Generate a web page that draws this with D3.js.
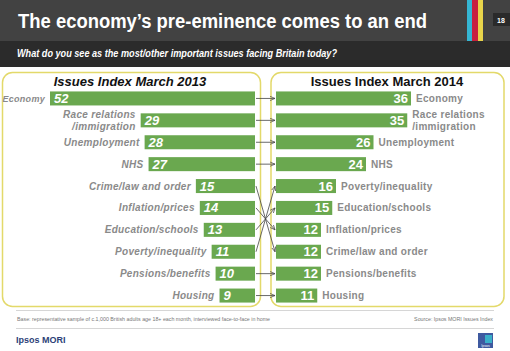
<!DOCTYPE html>
<meta charset="utf-8">
<script src="https://d3js.org/d3.v7.min.js"></script>
<style>
  body { margin: 0; background: #fff; }
  text { font-family: "Liberation Sans", Arial, sans-serif; }
</style>
<div id="chart"></div>
<script>

// data
var leftNames = ["Economy", "Race relations/immigration", "Unemployment", "NHS", "Crime/law and order",
                 "Inflation/prices", "Education/schools", "Poverty/inequality", "Pensions/benefits", "Housing"];
var leftValues = [52, 29, 28, 27, 15, 14, 13, 11, 10, 9];

var rightNames = ["Economy", "Race relations/immigration", "Unemployment", "NHS", "Poverty/inequality",
                  "Education/schools", "Inflation/prices", "Crime/law and order", "Pensions/benefits", "Housing"];
var rightValues = [36, 35, 26, 24, 16, 15, 12, 12, 12, 11];

var width = 510, height = 351;
var green = "#6aa84f", grey = "#8a8a8a", yellow = "#e3d96a";

var svg = d3.select("#chart").append("svg")
    .attr("width", width)
    .attr("height", height);

// header
svg.append("rect").attr("x", 0).attr("y", 0).attr("width", width).attr("height", 41).attr("fill", "#424242");
svg.append("rect").attr("x", 0).attr("y", 41).attr("width", width).attr("height", 26).attr("fill", "#2b2b2b");
svg.append("text").attr("x", 18).attr("y", 28)
    .attr("fill", "#fff").attr("font-size", 20).attr("font-weight", "bold")
    .attr("textLength", 409).attr("lengthAdjust", "spacingAndGlyphs")
    .text("The economy’s pre-eminence comes to an end");
svg.append("text").attr("x", 17).attr("y", 57)
    .attr("fill", "#fff").attr("font-size", 10).attr("font-weight", "bold").attr("font-style", "italic")
    .attr("textLength", 320).attr("lengthAdjust", "spacingAndGlyphs")
    .text("What do you see as the most/other important issues facing Britain today?");
[["#35b6d3", 467, 5], ["#c8203f", 472, 6], ["#e8d44a", 478, 5]].forEach(function(s) {
  svg.append("rect").attr("x", s[1]).attr("y", 0).attr("width", s[2]).attr("height", 41).attr("fill", s[0]);
});
svg.append("rect").attr("x", 493).attr("y", 13).attr("width", 17).attr("height", 13).attr("fill", "#2a2a2a");
svg.append("text").attr("x", 501).attr("y", 22.5).attr("text-anchor", "middle")
    .attr("fill", "#fff").attr("font-size", 7).attr("font-weight", "bold").text("18");

// panels
svg.append("rect").attr("x", 2.5).attr("y", 72.5).attr("width", 258).attr("height", 234)
    .attr("rx", 10).attr("fill", "none").attr("stroke", yellow).attr("stroke-width", 1.5);
svg.append("rect").attr("x", 271).attr("y", 72.5).attr("width", 233).attr("height", 234)
    .attr("rx", 10).attr("fill", "none").attr("stroke", yellow).attr("stroke-width", 1.5);

svg.append("text").attr("x", 130).attr("y", 86).attr("text-anchor", "middle")
    .attr("font-size", 13).attr("font-weight", "bold").attr("font-style", "italic").attr("fill", "#111")
    .text("Issues Index March 2013");
svg.append("text").attr("x", 387).attr("y", 86).attr("text-anchor", "middle")
    .attr("font-size", 13).attr("font-weight", "bold").attr("fill", "#111")
    .text("Issues Index March 2014");

// scales
var y = d3.scaleBand().domain(d3.range(10)).range([87.5, 306.5]).paddingInner(0.36).paddingOuter(0.18);
var leftEnd = 255, rightStart = 276;
var xL = d3.scaleLinear().domain([0, 52]).range([0, 205]);
var xR = d3.scaleLinear().domain([0, 36]).range([0, 135]);

function labelLines(sel, names, xFor) {
  sel.each(function(d, i) {
    var t = d3.select(this);
    var x = xFor(i);
    var cy = y(i) + y.bandwidth() / 2;
    var parts = d.length > 22 ? d.replace("/", "\n/").split("\n") : [d];
    parts.forEach(function(p, k) {
      t.append("tspan").attr("x", x)
        .attr("y", cy + 3.5 + (k - (parts.length - 1) / 2) * 12)
        .text(p);
    });
  });
}

// left bars
var gl = svg.append("g");
gl.selectAll("rect").data(leftValues).enter().append("rect")
    .attr("x", function(d) { return leftEnd - xL(d); })
    .attr("y", function(d, i) { return y(i); })
    .attr("width", function(d) { return xL(d); })
    .attr("height", y.bandwidth())
    .attr("fill", green);
gl.selectAll("text.val").data(leftValues).enter().append("text")
    .attr("class", "val")
    .attr("x", function(d) { return leftEnd - xL(d) + 4; })
    .attr("y", function(d, i) { return y(i) + y.bandwidth() / 2 + 4.5; })
    .attr("fill", "#fff").attr("font-size", 13).attr("font-weight", "bold").attr("font-style", "italic")
    .text(function(d) { return d; });
gl.selectAll("text.lab").data(leftNames).enter().append("text")
    .attr("class", "lab")
    .attr("text-anchor", "end")
    .attr("fill", grey).attr("font-weight", "bold").attr("font-style", "italic")
    .attr("font-size", function(d) { return d == "Economy" ? 9 : 10; })
    .attr("letter-spacing", 0.3)
    .call(labelLines, leftNames, function(i) { return leftEnd - xL(leftValues[i]) - 5; });

// right bars
var gr = svg.append("g");
gr.selectAll("rect").data(rightValues).enter().append("rect")
    .attr("x", rightStart)
    .attr("y", function(d, i) { return y(i); })
    .attr("width", function(d) { return xR(d); })
    .attr("height", y.bandwidth())
    .attr("fill", green);
gr.selectAll("text.val").data(rightValues).enter().append("text")
    .attr("class", "val")
    .attr("x", function(d) { return rightStart + xR(d) - 3; })
    .attr("y", function(d, i) { return y(i) + y.bandwidth() / 2 + 4.5; })
    .attr("text-anchor", "end")
    .attr("fill", "#fff").attr("font-size", 13).attr("font-weight", "bold")
    .text(function(d) { return d; });
gr.selectAll("text.lab").data(rightNames).enter().append("text")
    .attr("class", "lab")
    .attr("fill", grey).attr("font-weight", "bold").attr("font-size", 10)
    .attr("letter-spacing", 0.3)
    .call(labelLines, rightNames, function(i) { return rightStart + xR(rightValues[i]) + 5; });

// arrows linking the two years
svg.append("defs").append("marker")
    .attr("id", "arr").attr("viewBox", "0 0 8 8").attr("refX", 7).attr("refY", 4)
    .attr("markerWidth", 7).attr("markerHeight", 7).attr("orient", "auto")
  .append("path").attr("d", "M0,1 L7,4 L0,7").attr("fill", "none").attr("stroke", "#444").attr("stroke-width", 1);

svg.append("g").selectAll("line").data(leftNames).enter().append("line")
    .attr("x1", leftEnd + 1)
    .attr("y1", function(d, i) { return y(i) + y.bandwidth() / 2; })
    .attr("x2", rightStart - 1)
    .attr("y2", function(d) { var j = rightNames.indexOf(d); return y(j) + y.bandwidth() / 2; })
    .attr("stroke", "#444").attr("stroke-width", 0.8)
    .attr("marker-end", "url(#arr)");

// footer
svg.append("line").attr("x1", 16).attr("x2", 494).attr("y1", 310.5).attr("y2", 310.5).attr("stroke", "#d6d6d6");
svg.append("line").attr("x1", 16).attr("x2", 494).attr("y1", 328.5).attr("y2", 328.5).attr("stroke", "#d6d6d6");
svg.append("text").attr("x", 17).attr("y", 321).attr("font-size", 5.3).attr("fill", "#777")
    .text("Base: representative sample of c.1,000 British adults age 18+ each month, interviewed face-to-face in home");
svg.append("text").attr("x", 493).attr("y", 321).attr("text-anchor", "end").attr("font-size", 5.3).attr("fill", "#777")
    .text("Source: Ipsos MORI Issues Index");
svg.append("text").attr("x", 16).attr("y", 343).attr("font-size", 9).attr("font-weight", "bold").attr("fill", "#2c3f78")
    .text("Ipsos MORI");
svg.append("rect").attr("x", 478).attr("y", 333).attr("width", 15).attr("height", 15).attr("fill", "#3f5aa0");
svg.append("rect").attr("x", 485).attr("y", 335).attr("width", 7).attr("height", 8).attr("fill", "#3bb0c9");
svg.append("text").attr("x", 485.5).attr("y", 346.5).attr("text-anchor", "middle")
    .attr("font-size", 3.5).attr("fill", "#fff").text("Ipsos");

</script>
